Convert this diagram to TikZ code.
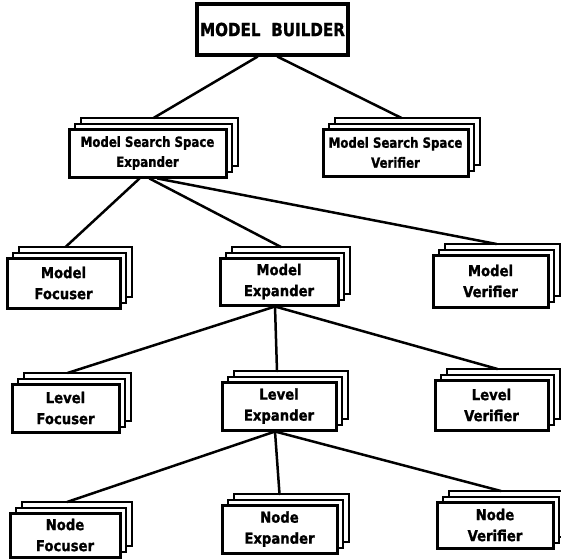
\documentclass[tikz,border=0pt]{standalone}
\usepackage{fontspec}
\setmainfont{DejaVu Sans}
\newfontfamily\hfont{DejaVu Sans}[FakeStretch=0.88,BoldFeatures={FakeBold=1.2}]
\newfontfamily\hfontn{DejaVu Sans}[FakeStretch=0.84,BoldFeatures={FakeBold=1.2}]
\begin{document}
\begin{tikzpicture}[x=1pt,y=-1pt,
  front/.style={draw=black,line width=3pt,fill=white,align=center,inner sep=0pt,
    font=\hfont\fontsize{15}{21}\selectfont\bfseries},
  narrow/.style={font=\hfontn\fontsize{14}{20}\selectfont\bfseries},
  layer/.style={draw=black,line width=2.5pt,fill=white},
  conn/.style={draw=black,line width=2.5pt,line cap=round}]
\useasboundingbox (0,0) rectangle (561,559);
\newcommand\stk[7][]{%
  \draw[layer] ({#3-#5/2+12},{#4-#6/2-11}) rectangle ({#3+#5/2+12},{#4+#6/2-11});
  \draw[layer] ({#3-#5/2+6},{#4-#6/2-5}) rectangle ({#3+#5/2+6},{#4+#6/2-5});
  \node[front,minimum width=#5pt,minimum height=#6pt,#1] (#2) at (#3,#4) {#7};
  \coordinate (#2-t) at ({#3+6},{#4-#6/2-11});
}
% top box
\node[front,line width=3.3pt,minimum width=151pt,minimum height=51pt,
  font=\hfontn\fontsize{18}{22}\selectfont\bfseries] (mb) at (272.5,29.5) {MODEL\hspace{0.6em}BUILDER};
\stk[narrow]{msse}{147.5}{153}{157}{48}{Model Search Space\\Expander}
\stk[narrow]{mssv}{395.5}{152.5}{145}{47}{Model Search Space\\Verifier}
\stk{mf}{63.5}{283}{113}{50}{Model\\Focuser}
\stk{me}{279}{281.5}{118}{47}{Model\\Expander}
\stk{mv}{490.5}{281}{115}{52}{Model\\Verifier}
\stk{lf}{65.5}{408}{107}{48}{Level\\Focuser}
\stk{le}{279}{406}{114}{48}{Level\\Expander}
\stk{lv}{491.5}{405}{113}{50}{Level\\Verifier}
\stk{nf}{65}{535}{110}{44}{Node\\Focuser}
\stk{ne}{279.5}{529}{115}{48}{Node\\Expander}
\stk{nv}{495}{525}{116}{46}{Node\\Verifier}
% connectors
\draw[conn] ([xshift=-15pt]mb.south) -- (msse-t);
\draw[conn] ([xshift=5pt]mb.south) -- (mssv-t);
\draw[conn] ([xshift=-8pt]msse.south) -- ([xshift=-4pt]mf-t);
\draw[conn] ([xshift=2pt]msse.south) -- ([xshift=-4pt]me-t);
\draw[conn] ([xshift=10pt]msse.south) -- (mv-t);
\draw[conn] ([xshift=-4pt]me.south) -- ([xshift=-4pt]lf-t);
\draw[conn] ([xshift=-4pt]me.south) -- ([xshift=-8pt]le-t);
\draw[conn] ([xshift=-4pt]me.south) -- (lv-t);
\draw[conn] ([xshift=-4pt]le.south) -- ([xshift=-4pt]nf-t);
\draw[conn] ([xshift=-4pt]le.south) -- ([xshift=-6pt]ne-t);
\draw[conn] ([xshift=-4pt]le.south) -- (nv-t);
\end{tikzpicture}
\end{document}
